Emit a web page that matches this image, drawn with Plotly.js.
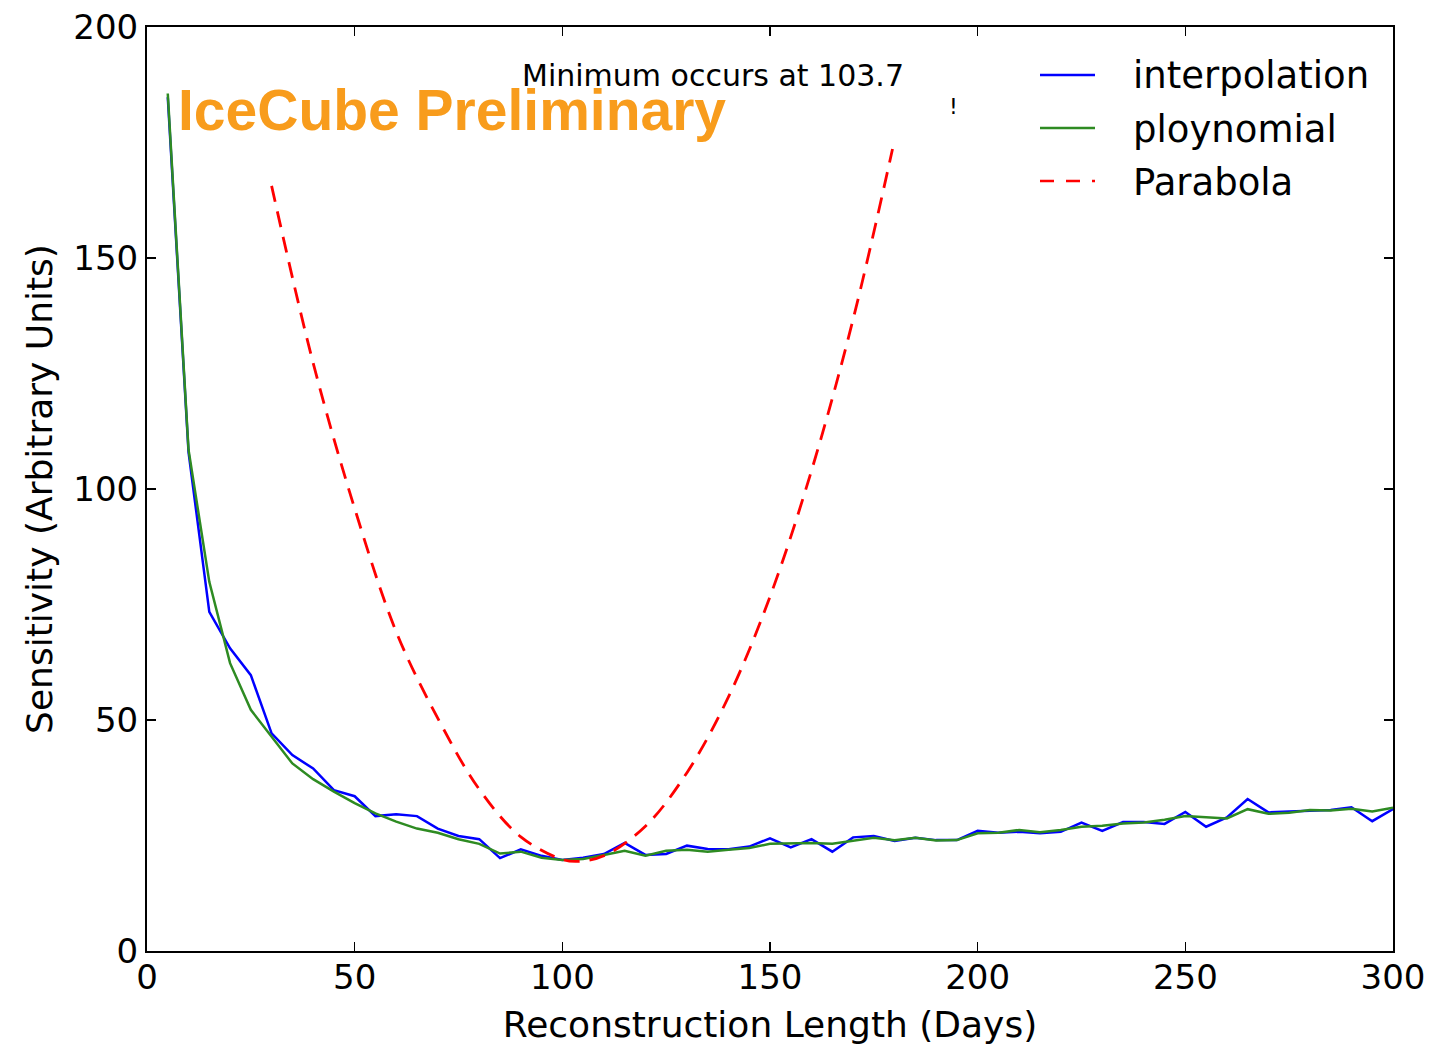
<!DOCTYPE html>
<html>
<head>
<meta charset="utf-8">
<script src="https://cdn.plot.ly/plotly-3.0.1.min.js"></script>
<style>html,body{margin:0;padding:0;background:#fff;}#chart{width:1453px;height:1046px;}</style>
</head>
<body>
<div id="chart"></div>
<script>
// Reconstruction length (days)
const days = [5,10,15,20,25,30,35,40,45,50,55,60,65,70,75,80,85,90,95,100,
  105,110,115,120,125,130,135,140,145,150,155,160,165,170,175,180,185,190,195,200,
  205,210,215,220,225,230,235,240,245,250,255,260,265,270,275,280,285,290,295,300];
// interpolation (blue)
const interpolation = [184.8,108,73.4,65.5,59.7,47.1,42.4,39.5,34.8,33.5,29.2,29.6,29.2,26.5,24.9,24.2,20.1,22.0,20.6,19.7,
  20.2,21.0,23.4,20.8,21.0,22.8,22.1,22.0,22.6,24.4,22.4,24.2,21.5,24.6,24.9,23.8,24.5,24.0,24.0,26.0,
  25.6,25.8,25.5,25.8,27.8,26.0,27.9,27.9,27.5,30.1,26.9,28.9,32.9,30.0,30.2,30.3,30.5,31.1,28.1,30.7];
// polynomial (green)
const polynomial = [185.6,108.5,79.9,62.3,52.2,46.5,40.6,37.2,34.5,32.0,29.8,28.0,26.5,25.6,24.2,23.2,21.1,21.5,20.2,19.7,
  19.9,20.8,21.7,20.6,21.7,21.9,21.5,21.9,22.3,23.2,23.3,23.4,23.2,23.8,24.5,24.0,24.5,23.9,24.0,25.5,
  25.6,26.2,25.7,26.2,26.9,27.1,27.6,27.8,28.4,29.2,28.9,28.7,30.7,29.7,29.9,30.5,30.4,30.8,30.2,31.0];
// parabola (red dashed)
const parabolaDays = [30,40,50,60,70,80,90,100,104,110,120,130,140,150,160,170,179.5];
const parabolaVals = [165.6,127.3,95.8,69.1,50.4,35.0,24.7,19.8,19.4,20.6,27.0,38.6,55.0,76.7,104.0,136.7,173.6];

const seriesNames = ['interpolation','ploynomial','Parabola'];
const seriesColors = ['#0000ff','#2e8b22','#ff0000'];
const seriesDash = ['solid','solid','16px,10px'];
const xTicks = [0,50,100,150,200,250,300];
const yTicks = [0,50,100,150,200];

const FONT = 'DejaVu Sans, sans-serif';

const traces = [
  {x: days, y: interpolation, name: seriesNames[0], type: 'scatter', mode: 'lines',
   line: {color: seriesColors[0], width: 2.5}},
  {x: days, y: polynomial, name: seriesNames[1], type: 'scatter', mode: 'lines',
   line: {color: seriesColors[1], width: 2.5}},
  {x: parabolaDays, y: parabolaVals, name: seriesNames[2], type: 'scatter', mode: 'lines',
   line: {color: seriesColors[2], width: 2.8, dash: seriesDash[2], shape: 'spline'}}
];

// Legend drawn as shapes + annotations (matplotlib-style layout)
const W = 1246, H = 924, L = 147, T = 27;
const px2x = p => (p - L) / W;
const py2y = p => (T + H - p) / H;
const legendRowsY = [75, 128, 181];
const legendShapes = seriesNames.map((n, i) => ({
  type: 'line', xref: 'paper', yref: 'paper',
  x0: px2x(1040), x1: px2x(1095), y0: py2y(legendRowsY[i]), y1: py2y(legendRowsY[i]),
  line: {color: seriesColors[i], width: 2.5, dash: i === 2 ? '14px,12px' : 'solid'}
}));
const legendTexts = seriesNames.map((n, i) => ({
  xref: 'paper', yref: 'paper', x: px2x(1131), y: py2y(legendRowsY[i] + 1),
  xanchor: 'left', yanchor: 'middle', showarrow: false, text: n,
  font: {family: FONT, size: 37, color: '#000'}
}));

const axisCommon = {
  showgrid: false, zeroline: false,
  showline: true, linecolor: '#000', linewidth: 2, mirror: 'allticks',
  ticks: 'inside', ticklen: 9, tickwidth: 1.5, tickcolor: '#000',
  tickfont: {family: FONT, size: 34, color: '#000'}
};

const layout = {
  width: 1453, height: 1046,
  paper_bgcolor: '#fff', plot_bgcolor: '#fff',
  margin: {l: 147, r: 60, t: 27, b: 95},
  showlegend: false,
  xaxis: Object.assign({}, axisCommon, {
    range: [0, 300], tickvals: xTicks, ticktext: xTicks.map(String), ticklabelstandoff: -5,
    title: {text: 'Reconstruction Length (Days)', font: {family: FONT, size: 36, color: '#000'}, standoff: 16}
  }),
  yaxis: Object.assign({}, axisCommon, {
    range: [0, 200], tickvals: yTicks, ticktext: yTicks.map(String),
    title: {text: 'Sensitivity (Arbitrary Units)', font: {family: FONT, size: 36, color: '#000'}, standoff: 10}
  }),
  shapes: legendShapes,
  annotations: [
    {xref: 'paper', yref: 'paper', x: px2x(520), y: py2y(75), xanchor: 'left', yanchor: 'middle',
     text: 'Minimum occurs at 103.7', showarrow: false, font: {family: FONT, size: 30, color: '#000'}},
    {xref: 'paper', yref: 'paper', x: px2x(176), y: py2y(110), xanchor: 'left', yanchor: 'middle',
     text: '<b>IceCube Preliminary</b>', showarrow: false,
     font: {family: 'Liberation Sans, Arial, sans-serif', size: 57, color: '#f89c1c'}},
    {xref: 'paper', yref: 'paper', x: px2x(953), y: py2y(107), xanchor: 'center', yanchor: 'middle',
     text: '!', showarrow: false, font: {family: FONT, size: 22, color: '#000'}}
  ].concat(legendTexts)
};

Plotly.newPlot('chart', traces, layout, {displayModeBar: false, staticPlot: true});
</script>
</body>
</html>
